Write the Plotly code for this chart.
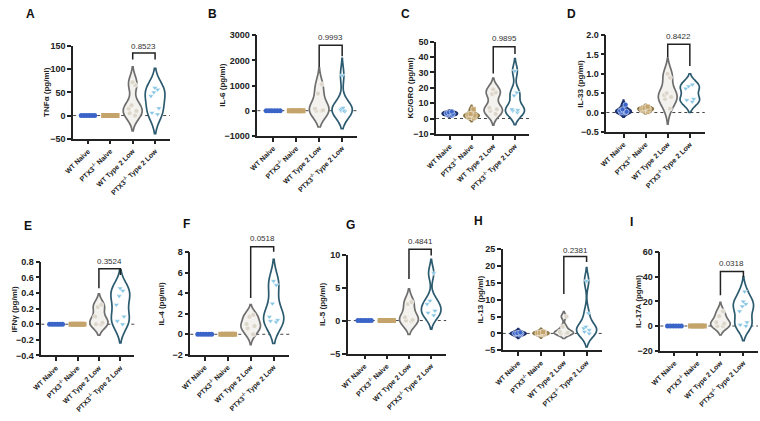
import numpy as np
import plotly.graph_objects as go

W, H = 760, 421

groups = ["WT Naive", "PTX3<sup>-/-</sup> Naive", "WT Type 2 Low", "PTX3<sup>-/-</sup> Type 2 Low"]
letters = ["A", "B", "C", "D", "E", "F", "G", "H", "I"]
y_titles = ["TNFα (pg/ml)", "IL-6 (pg/ml)", "KC/GRO (pg/ml)", "IL-33 (pg/ml)",
            "IFNγ (pg/ml)", "IL-4 (pg/ml)", "IL-5 (pg/ml)", "IL-13 (pg/ml)", "IL-17A (pg/ml)"]
p_values = ["0.8523", "0.9993", "0.9895", "0.8422", "0.3524", "0.0518", "0.4841", "0.2381", "0.0318"]

# values per group: WT Naive, PTX3-/- Naive, WT Type 2 Low, PTX3-/- Type 2 Low
tnfa = [[0, 0, 0, 0, 0, 0], [0, 0, 0, 0, 0, 0],
        [72, 66, 22, 15, 10, 5, 0], [60, 56, 50, 42, 16, 6, 3]]
il6 = [[0, 0, 0, 0, 0, 0], [0, 0, 0, 0, 0, 0],
       [1050, 680, 80, 20, 0, 0], [1400, 120, 80, 40, 10, 0, -30]]
kcgro = [[2, 2.5, 3, 3.5, 4, 4.5], [0.5, 1, 2, 2.5, 3, 6],
         [19, 17, 16, 7, 6, 5, 3], [31, 17, 15, 6, 5, 4, 5.5]]
il33 = [[0.2, 0.08, 0.05, 0.02, 0.0, 0.0], [0.15, 0.12, 0.1, 0.08, 0.05, 0.02],
        [1.0, 0.9, 0.5, 0.45, 0.4, 0.35, 0.1], [0.72, 0.68, 0.62, 0.35, 0.32, 0.28]]
ifng = [[0, 0, 0, 0, 0, 0], [0, 0, 0, 0, 0, 0],
        [0.25, 0.22, 0.1, 0.02, 0.0, 0.0], [0.46, 0.43, 0.36, 0.25, 0.1, 0.04, 0.0]]
il4 = [[0, 0, 0, 0, 0, 0], [0, 0, 0, 0, 0, 0],
       [1.9, 1.7, 1.0, 0.8, 0.6, 0.0], [5.2, 4.8, 3.0, 1.7, 1.4, 1.3, 1.2]]
il5 = [[0, 0, 0, 0, 0, 0], [0, 0, 0, 0, 0, 0],
       [2.8, 2.5, 0.5, 0.1, 0.0, -0.1], [7.2, 3.0, 2.5, 1.5, 1.2, 0.8]]
il13 = [[-0.4, -0.2, 0, 0.1, 0.3, 0.0], [-0.3, -0.1, 0, 0.2, 0.4, 0.1],
        [5, 2, 0.5, 0.2, 0, 0], [15.5, 6, 2, 1.5, 1, 0.5, 0]]
il17a = [[0, 0, 0, 0, 0, 0], [0, 0, 0, 0, 0, 0],
         [12, 8, 3, 2, 0, 0], [28, 20, 18, 16, 12, 3, 1, 0]]

panels_data = [tnfa, il6, kcgro, il33, ifng, il4, il5, il13, il17a]

y_ranges = [(-50, 150), (-1000, 3000), (-10, 50), (-0.5, 2.0), (-0.4, 0.8),
            (-2, 8), (-5, 10), (-5, 25), (-20, 60)]
y_dticks = [50, 1000, 10, 0.5, 0.2, 2, 5, 5, 20]
y_formats = ["", "", "", ".1f", ".1f", "", "", "", ""]
# bracket: (left leg end, top, right leg end, text y) in data units
brackets = [(121, 135, 121, 149), (1740, 2607, 2167, 2900), (29.4, 46.8, 42, 52),
            (1.42, 1.76, 1.2, 1.96), (0.46, 0.71, 0.63, 0.8), (3.55, 8.53, 8.06, 9.33),
            (6.3, 10.8, 9.85, 12.0), (11.7, 22.8, 21.2, 24.7), (25, 44.4, 39.8, 51)]

# kernel smoothing per violin (style)
bandwidths = [[None, None, 16.5, 21], [None, None, 325, 342], [0.6, 1.3, 3.7, 4],
              [0.06, 0.03, 0.2, 0.14], [None, None, 0.07, 0.12], [None, None, 0.5, 1.05],
              [None, None, 1.0, 1.05], [0.55, 0.55, 0.75, 2.0], [None, None, 3.6, 6.0]]

# ---- layout geometry (pixels) ----
geom = [
    (64, 79, 22.67, 162, 42, 137),
    (250.7, 266.7, 23.3, 352, 31, 134),
    (431.7, 445.7, 22.0, 526, 37.7, 132),
    (604.3, 621.7, 22.4, 704, 30.7, 130),
    (31.7, 46.7, 21.7, 126, 263, 359),
    (182.7, 197.3, 23.3, 283, 253.3, 358.3),
    (342.3, 359.3, 22.5, 442, 255.7, 357),
    (499.3, 515, 23.1, 600, 250, 353.7),
    (659, 673.3, 23.3, 758, 253.3, 354),
]
title_x = [37, 215, 406, 578, 5, 154, 316, 477, 637]
letter_pos = [(21, 9), (205, 9), (401, 9), (569, 9), (18, 226), (179, 224),
              (345, 225), (475, 221), (630, 222)]

fills = ["#2f56b0", "#c9a96b", "#f4f2ee", "#ffffff"]
lines = ["#1c2f6b", "#8a7344", "#6e6e6e", "#2c5b70"]
mcols = ["#3b64c8", "#c4a46a", "#ddd7cb", "#86c5e4"]
msyms = ["circle", "square", "circle", "triangle-down"]
vwidths = [0.7, 0.7, 0.85, 0.88]

FONT = "Liberation Sans, Arial, sans-serif"
AX = "#222222"

fig = go.Figure()
shapes = []
annotations = []
layout = {}


def to_paper(k, xv, yv):
    L, c0, s, R, T, B = geom[k]
    y0, y1 = y_ranges[k]
    px = c0 + xv * s
    py = B - (yv - y0) / (y1 - y0) * (B - T)
    return px / W, 1 - py / H


for k in range(9):
    idx = "" if k == 0 else str(k + 1)
    xa, ya = "x" + idx, "y" + idx
    L, c0, s, R, T, B = geom[k]
    layout["xaxis" + idx] = dict(
        domain=[L / W, R / W], range=[(L - c0) / s, (R - c0) / s],
        anchor=ya, tickvals=[0, 1, 2, 3], ticktext=groups, tickangle=-45,
        showline=True, linecolor=AX, linewidth=1.5, ticks="outside", ticklen=4,
        tickwidth=1.5, tickcolor=AX, showgrid=False, zeroline=False,
        tickfont=dict(family=FONT, size=7, color=AX, weight="bold"))
    layout["yaxis" + idx] = dict(
        domain=[1 - B / H, 1 - T / H], range=list(y_ranges[k]), anchor=xa,
        dtick=y_dticks[k], tick0=0, tickformat=y_formats[k],
        showline=True, linecolor=AX, linewidth=1.5, ticks="outside", ticklen=4,
        tickwidth=1.5, tickcolor=AX, showgrid=False, zeroline=False,
        tickfont=dict(family=FONT, size=9, color=AX, weight="bold"))

    shapes.append(dict(type="line", xref=xa + " domain", yref=ya, x0=0, x1=1, y0=0, y1=0,
                       line=dict(color="#444444", width=1, dash="dot"), layer="below"))

    for g in range(4):
        vals = panels_data[k][g]
        if max(vals) == min(vals):
            n = len(vals)
            fig.add_trace(go.Scatter(
                x=list(g + np.linspace(-0.3, 0.3, n)), y=vals, mode="markers",
                xaxis=xa, yaxis=ya, showlegend=False,
                marker=dict(symbol=msyms[g], size=5, color=mcols[g], line=dict(width=0))))
        else:
            fig.add_trace(go.Violin(
                x=[g] * len(vals), y=vals, xaxis=xa, yaxis=ya, showlegend=False,
                width=vwidths[g], scalemode="width", spanmode="soft",
                bandwidth=bandwidths[k][g],
                fillcolor=fills[g], line=dict(color=lines[g], width=1.7),
                points="all", pointpos=0, jitter=0.5,
                marker=dict(symbol=msyms[g], size=5, color=mcols[g],
                            line=dict(width=0.5, color="#ffffff")),
                box=dict(visible=False), meanline=dict(visible=False),
                hoveron="points"))

    yl, yt, yr, ytxt = brackets[k]
    xl, pyl = to_paper(k, 2, yl)
    _, pyt = to_paper(k, 2, yt)
    xr, pyr = to_paper(k, 3, yr)
    xm, pytxt = to_paper(k, 2.5, ytxt)
    shapes.append(dict(type="path", xref="paper", yref="paper",
                       path=f"M {xl},{pyl} L {xl},{pyt} L {xr},{pyt} L {xr},{pyr}",
                       line=dict(color=AX, width=1.5)))
    annotations.append(dict(x=xm, y=pytxt, xref="paper", yref="paper", text=p_values[k],
                            xanchor="center", yanchor="middle",
                            showarrow=False, font=dict(family=FONT, size=8, color="#333333")))
    annotations.append(dict(x=title_x[k] / W, y=1 - (T + B) / 2 / H, xref="paper", yref="paper",
                            xanchor="center", yanchor="middle",
                            text=y_titles[k], textangle=-90, showarrow=False,
                            font=dict(family=FONT, size=8, color=AX, weight="bold")))
    lx, ly = letter_pos[k]
    annotations.append(dict(x=lx / W, y=1 - ly / H, xref="paper", yref="paper",
                            xanchor="center", yanchor="middle",
                            text=letters[k], showarrow=False,
                            font=dict(family=FONT, size=12, color="#111111", weight="bold")))

fig.update_layout(**layout)
fig.update_layout(width=W, height=H, margin=dict(l=0, r=0, t=0, b=0),
                  paper_bgcolor="white", plot_bgcolor="white",
                  shapes=shapes, annotations=annotations, violinmode="overlay",
                  showlegend=False)
fig.write_html("out.html")
